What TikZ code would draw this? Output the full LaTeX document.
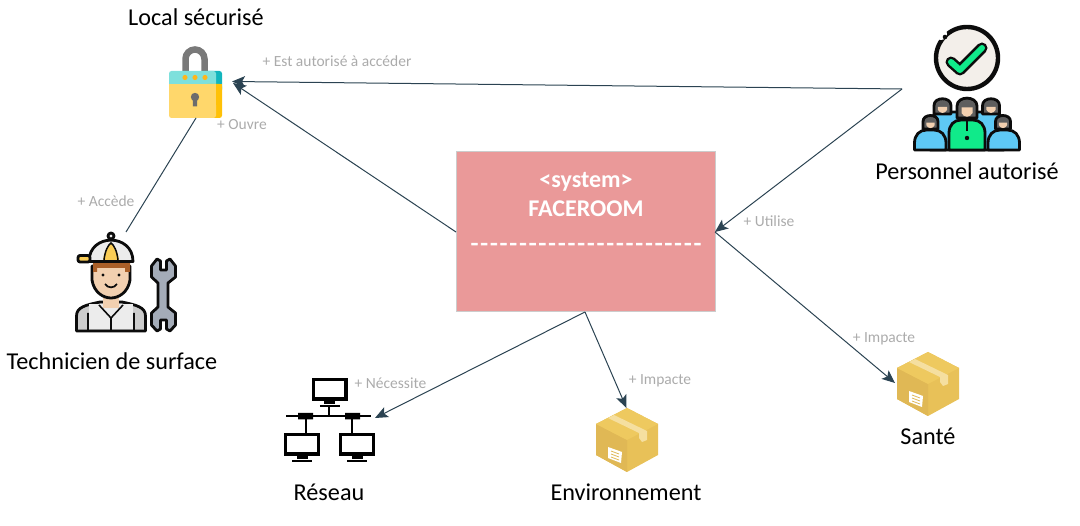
\documentclass[tikz,border=0pt]{standalone}
\usepackage{fontspec}
\setmainfont{Carlito}
\newfontfamily\rulefont[FakeBold=3]{Carlito}
\usetikzlibrary{arrows.meta}
\definecolor{conn}{HTML}{2B4352}
\definecolor{lab}{HTML}{ABABAB}
\definecolor{sysfill}{HTML}{EA9999}
\definecolor{inkk}{HTML}{0C0C0C}
\definecolor{boxa}{HTML}{E8C158}
\definecolor{boxb}{HTML}{E0B855}
\definecolor{boxc}{HTML}{EEC95F}
\definecolor{boxd}{HTML}{F5DFA0}
\definecolor{skin}{HTML}{F2D0B0}
\definecolor{hairg}{HTML}{5E5E5E}
\definecolor{sky}{HTML}{5EC9F5}
\definecolor{mint}{HTML}{10EA8A}
\definecolor{paper}{HTML}{F3EFEA}
\tikzset{
  conn/.style={draw=conn,line width=1pt},
  arr/.style={conn,-{Stealth[length=13pt,width=11pt,inset=3pt]}},
  lbl/.style={text=lab,font=\fontsize{15.5}{17}\selectfont,inner sep=0pt},
  captxt/.style={text=black,font=\fontsize{24.2}{26}\selectfont,inner sep=0pt},
  sys/.style={text=white,font=\fontsize{24}{26}\selectfont\bfseries,inner sep=0pt},
  rulestyle/.style={text=white,font=\fontsize{24}{26}\selectfont\rulefont,inner sep=0pt},
  ol/.style={draw=inkk,line width=2.8pt,line join=round},
  ic/.style={line width=3.4pt,draw=black,line join=miter},
  hole/.style={inner sep=0pt,minimum size=0pt}
}
\newcommand{\parcel}[1]{%
  \begin{scope}[shift={#1}]
    \fill[boxa] (0,-32) -- (31,-16) -- (31,15) -- (0,32) -- (-31,15) -- (-31,-16) -- cycle;
    \fill[boxb] (0,0) -- (-31,-16) -- (-31,15) -- (0,32) -- cycle;
    \fill[boxc] (0,-32) -- (31,-16) -- (0,0) -- (-31,-16) -- cycle;
    \fill[boxd] (-19,-22) -- (-13,-25) -- (20,-9) -- (20,0) -- (15,2) -- (12,-2) -- (12,-7) -- cycle;
    \fill[white] (-19,7) -- (-5,12) -- (-6,23) -- (-19,18) -- cycle;
    \draw[boxb,line width=0.8pt] (-16,11) -- (-8,14) (-16,14) -- (-8,17) (-16,17) -- (-8,20);
  \end{scope}}
\newcommand{\monitor}[3]{%
  \draw[ic] (#1,#2) rectangle ++(#3,19.5);
  \fill[black] (#1+#3/2-5.5,#2+20) rectangle ++(11,5);
  \draw[black,line width=1.8pt] (#1+#3/2-10,#2+26.5) -- ++(20,0);}
% head: centre x, top y, half width, bottom y
\newcommand{\headp}[4]{%
  \draw[ol,fill=hairg] (#1-#3,#4) -- (#1-#3,#2+#3) .. controls (#1-#3,#2-0.5) and (#1+#3,#2-0.5) .. (#1+#3,#2+#3) -- (#1+#3,#4) -- cycle;
  \fill[skin] (#1-#3*0.55,#2+#3*1.15) -- (#1+#3*0.55,#2+#3*1.15) -- (#1+#3*0.55,#4-#3*0.5) .. controls (#1+#3*0.3,#4) and (#1-#3*0.3,#4) .. (#1-#3*0.55,#4-#3*0.5) -- cycle;}
% body: left x, right x, top y, colour
\newcommand{\bodyp}[4]{%
  \draw[ol,fill=#4] (#1,150) -- (#1,#3+13) .. controls (#1,#3+5) and (#1+5,#3) .. (#1+12,#3) -- (#2-12,#3) .. controls (#2-5,#3) and (#2,#3+5) .. (#2,#3+13) -- (#2,150) -- cycle;}
\newcommand{\dd}{-\kern2.35pt}
\begin{document}
\begin{tikzpicture}[x=1pt,y=-1pt]
\useasboundingbox (0,0) rectangle (1080,526);

% ---- lock
\draw[line width=6.5pt,draw=gray!95!black] (185.5,73) -- (185.5,59) arc[start angle=180,end angle=360,radius=9.5] -- (204.5,73);
\fill[fill={rgb,255:red,18;green,181;blue,189},rounded corners=2.5pt] (205,71) rectangle (222,92);
\fill[fill={rgb,255:red,126;green,224;blue,220},rounded corners=2.5pt] (169,71) -- (169,92) -- (216,92) -- (216,71) -- cycle;
\fill[fill={rgb,255:red,255;green,193;blue,7},rounded corners=2.5pt] (205,84) rectangle (222,118);
\fill[fill={rgb,255:red,255;green,215;blue,107},rounded corners=2.5pt] (169,100) -- (169,118) -- (216,118) -- (216,100) -- cycle;
\fill[fill={rgb,255:red,255;green,215;blue,107}] (169,84) rectangle (216,105);
\fill[fill={rgb,255:red,255;green,193;blue,7}] (216,84) rectangle (222,105);
\foreach \dx in {185,195,205} \fill[fill={rgb,255:red,252;green,182;blue,30}] (\dx,77.5) circle[radius=2.6];
\fill[fill=gray!85!black] (195,97) circle[radius=4.2] (192.8,98) -- (197.2,98) -- (197,106.5) -- (193,106.5) -- cycle;
\node[hole,minimum width=53pt,minimum height=72pt] (lock) at (195.5,82) {};
\coordinate (lockE) at (232,81.5);
\coordinate (lockSE) at (233,83);
\coordinate (lockS) at (196,118);

% ---- technician
\draw[ol,fill=gray!40] (76.5,331) -- (76.5,316) .. controls (76.5,307) and (86,305) .. (100,302) -- (122,302) .. controls (136,305) and (145.5,307) .. (145.5,316) -- (145.5,331) -- cycle;
\fill[fill=gray!15] (89,304) -- (133,304) -- (133,329.5) -- (89,329.5) -- cycle;
\draw[inkk,line width=1.6pt] (88,313) -- (88,330) (134,313) -- (134,330) (111,318) -- (111,330) (99,305) -- (111,318) -- (123,305);
\fill[skin] (103,292) rectangle (119,308);
\draw[ol,fill=skin] (92,266) -- (92,280) .. controls (94,293) and (104,298) .. (111,298) .. controls (118,298) and (128,293) .. (130,280) -- (130,266) -- cycle;
\fill[fill={rgb,255:red,170;green,95;blue,40}] (93,262) rectangle (130,268) (93,262) rectangle (97,272) (125,262) rectangle (130,272);
\draw[ol,fill=gray!15] (89,261.5) .. controls (89,233) and (133,233) .. (133,261.5) -- cycle;
\fill[fill={rgb,255:red,250;green,205;blue,85}] (103,260) .. controls (104,251) and (108,245) .. (111,243) .. controls (114,245) and (118,251) .. (119,260) -- cycle;
\draw[inkk,line width=1.5pt] (104,260) .. controls (105,251) and (108,245) .. (111,243) .. controls (114,245) and (117,251) .. (118,260);
\draw[ol,fill={rgb,255:red,250;green,205;blue,85},rounded corners=2pt] (90,255.5) -- (78,255.5) -- (78,262) -- (90,262) -- cycle;
\draw[ol,fill=gray!15] (111,236) circle[radius=3];
\fill[inkk] (103,275) circle[radius=1.7] (119,275) circle[radius=1.7];
\draw[inkk,line width=1.7pt] (105,284) .. controls (108,288.5) and (114,288.5) .. (117,284);
\draw[ol,fill={rgb,255:red,164;green,172;blue,184}] (157,259) -- (160.5,261) -- (160.5,270) -- (166.5,270) -- (166.5,261) -- (170,259) -- (175.5,266) -- (175.5,277) -- (168,283) -- (168,307) -- (175.5,313) -- (175.5,325) -- (170,331) -- (166.5,329) -- (166.5,320) -- (160.5,320) -- (160.5,329) -- (157,331) -- (151.5,325) -- (151.5,313) -- (158,307) -- (158,283) -- (151.5,277) -- (151.5,266) -- cycle;
\node[hole,minimum width=100pt,minimum height=96pt] (tech) at (126,284) {};
\coordinate (techN) at (126,232);

% ---- personnel
\draw[line width=4.4pt,draw=inkk,fill=paper] (967,58) circle[radius=31];
\fill[fill=white] (941,34) circle[radius=6];
\fill[inkk] (945,37) circle[radius=2.3];
\draw[line width=11pt,draw=inkk,line join=round,line cap=round] (951,62) -- (960,70) -- (982,48);
\draw[line width=6pt,draw=mint,line join=round,line cap=round] (951,62) -- (960,70) -- (982,48);
\bodyp{930}{1004}{112}{sky}
\headp{942.5}{97}{8.5}{114}
\headp{991}{97}{8.5}{114}
\bodyp{914.5}{946}{130}{sky}
\bodyp{988}{1019.5}{130}{sky}
\headp{930.5}{114}{7.5}{129}
\headp{1003}{114}{7.5}{129}
\bodyp{949}{985}{120}{mint}
\headp{967}{96}{10}{118}
\draw[inkk,line width=1.8pt] (967,118) -- (967,131);
\fill[inkk] (967,138) circle[radius=2.2];
\node[hole,minimum width=108pt,minimum height=125pt] (staff) at (967,88) {};
\coordinate (staffW) at (902,89);

% ---- system box
\node[draw=gray!40,fill=sysfill,line width=1pt,minimum width=259pt,minimum height=160pt,inner sep=0pt] (sys) at (585.5,232) {};
\node[sys] (stereo) at (586,181.5) {<system>};
\node[sys] (name) at (586,209) {FACEROOM};
\node[rulestyle] (rule) at (586,247) {\dd\dd\dd\dd\dd\dd\dd\dd\dd\dd\dd\dd\dd\dd\dd\dd\dd\dd\dd\dd\dd\dd\dd-};
\coordinate (sysE) at (715,232);
\coordinate (sysW) at (456,232);
\coordinate (sysS) at (585,312);

% ---- network
\node[hole,minimum width=90pt,minimum height=88pt] (net) at (330,421) {};
\draw[black,line width=2pt] (286,416) -- (371,416) (306,416) -- (306,433) (352,416) -- (352,433) (329,407) -- (329,416);
\fill[black] (298,413) rectangle (313,419.5) (345,413) rectangle (360,419.5);
\monitor{313.5}{379.5}{32.5}
\monitor{285.5}{434.5}{33}
\monitor{340.5}{434.5}{33}
\coordinate (netE) at (375,418);

% ---- parcels
\parcel{(627,440)}
\parcel{(928,384)}
\node[hole,minimum width=64pt,minimum height=64pt] (env) at (627,440) {};
\node[hole,minimum width=64pt,minimum height=64pt] (sante) at (928,384) {};
\coordinate (envN) at (626.5,408);
\coordinate (santeW) at (895,383);

% ---- connectors
\draw[arr] (staffW) -- (lockE);
\draw[arr] (staffW) -- (sysE);
\draw[arr] (sysW) -- (lockSE);
\draw[conn] (lockS) -- (techN);
\draw[arr] (sysE) -- (santeW);
\draw[arr] (sysS) -- (netE);
\draw[arr] (sysS) -- (envN);

% ---- captions
\node[captxt] (c1) at (196,17) {Local sécurisé};
\node[captxt] (c2) at (112,361) {Technicien de surface};
\node[captxt] (c3) at (967,171) {Personnel autorisé};
\node[captxt] (c4) at (329,492) {Réseau};
\node[captxt] (c5) at (626,492) {Environnement};
\node[captxt] (c6) at (928,436) {Santé};

% ---- labels
\node[lbl] (l1) at (337,61) {+ Est autorisé à accéder};
\node[lbl] (l2) at (242,125) {+ Ouvre};
\node[lbl] (l3) at (106,201) {+ Accède};
\node[lbl] (l4) at (769,221) {+ Utilise};
\node[lbl] (l5) at (884,339) {+ Impacte};
\node[lbl] (l6) at (660,381) {+ Impacte};
\node[lbl] (l7) at (390.5,383) {+ Nécessite};
\end{tikzpicture}
\end{document}
